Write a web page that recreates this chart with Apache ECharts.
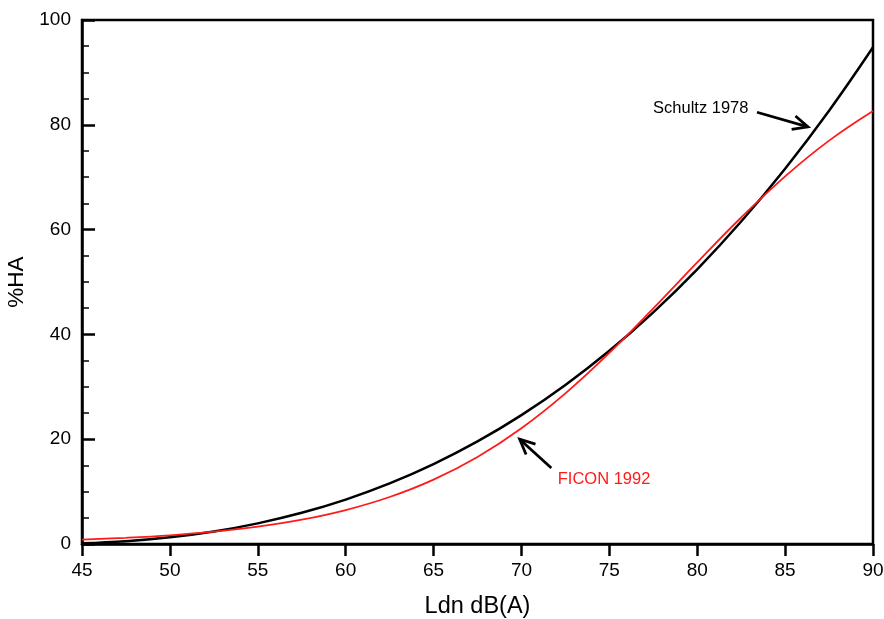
<!DOCTYPE html>
<html>
<head>
<meta charset="utf-8">
<script src="https://cdn.jsdelivr.net/npm/echarts@6/dist/echarts.min.js"></script>
<style>html,body{margin:0;padding:0;background:#fff}#c{width:884px;height:619px}</style>
</head>
<body>
<div id="c"></div>
<script>
var ldn = [45, 47.5, 50, 52.5, 55, 57.5, 60, 62.5, 65, 67.5, 70, 72.5, 75, 77.5, 80, 82.5, 85, 87.5, 90];
var schultz = [0.12, 0.52, 1.27, 2.39, 3.94, 5.95, 8.48, 11.56, 15.25, 19.57, 24.59, 30.34, 36.87, 44.21, 52.42, 61.54, 71.62, 82.69, 94.8];
var ficon = [0.83, 1.18, 1.66, 2.35, 3.31, 4.64, 6.48, 8.97, 12.29, 16.62, 22.10, 28.75, 36.47, 44.95, 53.74, 62.31, 70.16, 76.98, 82.64];
var xTicks = [45, 50, 55, 60, 65, 70, 75, 80, 85, 90];
var yTicks = [0, 20, 40, 60, 80, 100];

var font = 'Liberation Sans, Arial, Helvetica, sans-serif';
var chart = echarts.init(document.getElementById('c'), null, {renderer: 'canvas'});
function pairs(ys) { return ldn.map(function (x, i) { return [x, ys[i]]; }); }

chart.setOption({
  animation: false,
  backgroundColor: '#fff',
  grid: {left: 82, right: 11, top: 20, bottom: 75, containLabel: false, outerBoundsMode: 'none',
         show: true, borderColor: '#000', borderWidth: 2.5, backgroundColor: 'transparent'},
  xAxis: {
    type: 'value', min: xTicks[0], max: xTicks[xTicks.length - 1], interval: 5,
    name: 'Ldn dB(A)', nameLocation: 'middle', nameGap: 51,
    nameTextStyle: {fontFamily: font, fontSize: 23.5, color: '#000'},
    axisLine: {show: true, lineStyle: {color: '#000', width: 2.5}},
    axisTick: {show: true, inside: false, length: 12, lineStyle: {color: '#000', width: 2.5}},
    axisLabel: {fontFamily: font, fontSize: 19, color: '#000', margin: 17},
    splitLine: {show: false}
  },
  yAxis: {
    type: 'value', min: yTicks[0], max: yTicks[yTicks.length - 1], interval: 20,
    name: '%HA', nameLocation: 'middle', nameGap: 50, nameRotate: 90,
    nameTextStyle: {fontFamily: font, fontSize: 22.5, color: '#000'},
    axisLine: {show: true, lineStyle: {color: '#000', width: 2.5}},
    axisTick: {show: true, inside: true, length: 13, lineStyle: {color: '#000', width: 2.5}},
    minorTick: {show: true, splitNumber: 4, length: 7, lineStyle: {color: '#000', width: 1.5}},
    axisLabel: {fontFamily: font, fontSize: 19, color: '#000', margin: 11},
    splitLine: {show: false}
  },
  series: [
    {name: 'FICON 1992', type: 'line', data: pairs(ficon), smooth: 0.4, showSymbol: false,
     lineStyle: {color: '#ff1a1a', width: 1.8}, z: 3},
    {name: 'Schultz 1978', type: 'line', data: pairs(schultz), smooth: 0.4, showSymbol: false,
     lineStyle: {color: '#000', width: 2.5}, z: 2}
  ]
});

function px(x, y) { return chart.convertToPixel({gridIndex: 0}, [x, y]); }
function arrow(x0, y0, x1, y1) {
  var a = px(x0, y0), b = px(x1, y1);
  var dx = b[0] - a[0], dy = b[1] - a[1], L = Math.sqrt(dx * dx + dy * dy);
  var ux = dx / L, uy = dy / L, h = 15, w = 7;
  var p1 = [b[0] - ux * h - uy * w, b[1] - uy * h + ux * w];
  var p2 = [b[0] - ux * h + uy * w, b[1] - uy * h - ux * w];
  return [
    {type: 'line', shape: {x1: a[0], y1: a[1], x2: b[0], y2: b[1]}, style: {stroke: '#000', lineWidth: 2.8}},
    {type: 'polyline', shape: {points: [p1, b, p2]}, style: {stroke: '#000', lineWidth: 2.8, fill: null}}
  ];
}
var ts = px(80.2, 83.2), tf = px(74.7, 12.4);
var g = [].concat(
  arrow(83.4, 82.4, 86.3, 79.6),
  arrow(71.7, 14.5, 69.9, 20.0),
  [
    {type: 'text', x: ts[0], y: ts[1], style: {text: 'Schultz 1978', font: '16.5px ' + font, fill: '#000', align: 'center', verticalAlign: 'middle'}},
    {type: 'text', x: tf[0], y: tf[1], style: {text: 'FICON 1992', font: '16.5px ' + font, fill: '#ff1a1a', align: 'center', verticalAlign: 'middle'}}
  ]
);
chart.setOption({graphic: g});
</script>
</body>
</html>
